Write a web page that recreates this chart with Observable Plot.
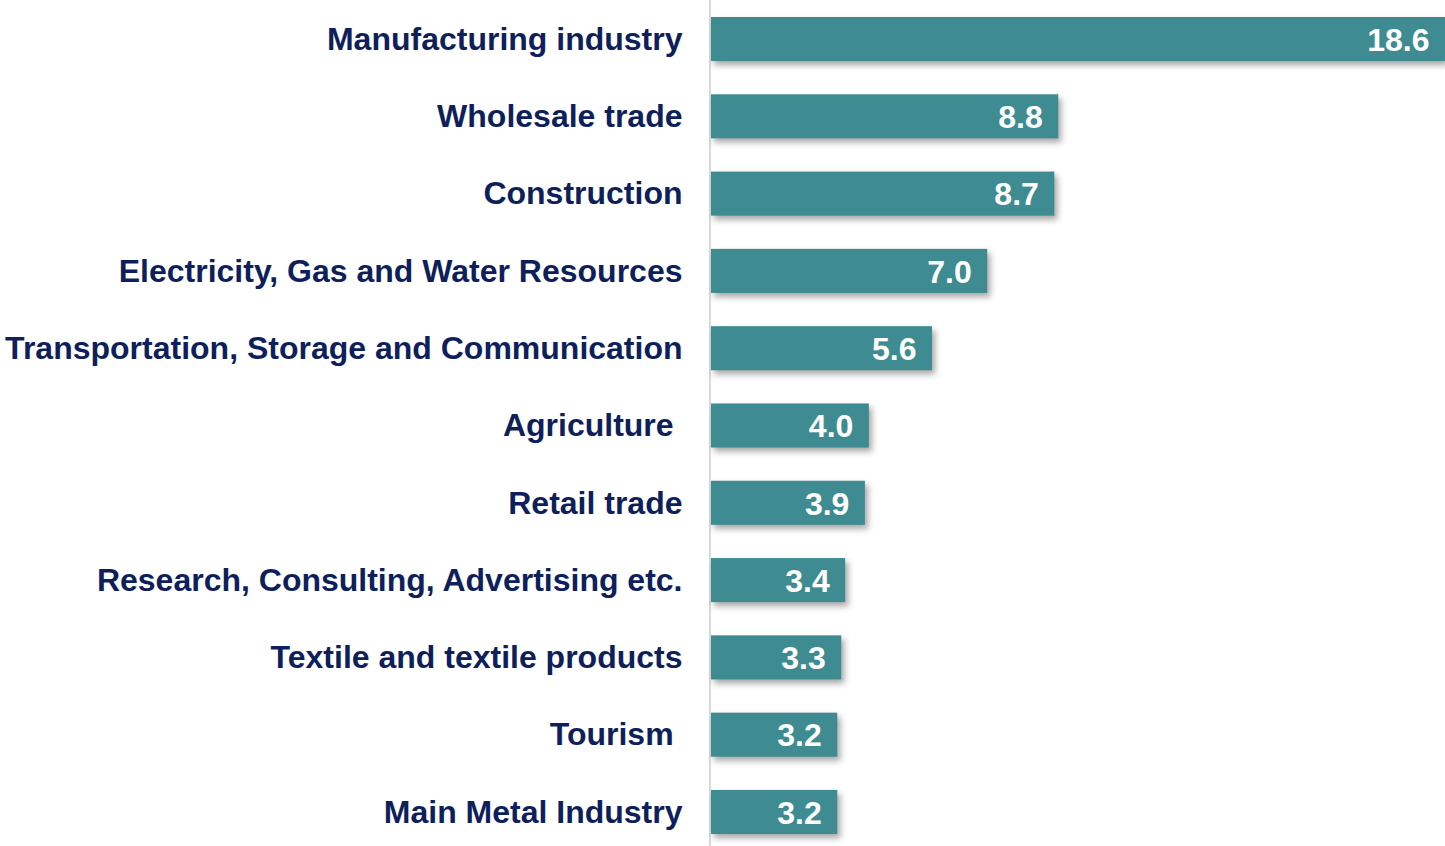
<!DOCTYPE html>
<html>
<head>
<meta charset="utf-8">
<script src="https://cdn.jsdelivr.net/npm/d3@7"></script>
<script src="https://cdn.jsdelivr.net/npm/@observablehq/plot@0.6"></script>
<style>
  html, body { margin: 0; padding: 0; background: #ffffff; }
  #chart svg { display: block; }
</style>
</head>
<body>
<div id="chart"></div>
<script>
const sectors = [
  "Manufacturing industry",
  "Wholesale trade",
  "Construction",
  "Electricity, Gas and Water Resources",
  "Transportation, Storage and Communication",
  "Agriculture ",
  "Retail trade",
  "Research, Consulting, Advertising etc.",
  "Textile and textile products",
  "Tourism ",
  "Main Metal Industry"
];
const values = [18.6, 8.8, 8.7, 7.0, 5.6, 4.0, 3.9, 3.4, 3.3, 3.2, 3.2];

const data = sectors.map((s, i) => ({sector: s, value: values[i]}));

const navy = "#0E1F5B";
const teal = "#3E8C91";

const chart = Plot.plot({
  width: 1445,
  height: 846,
  marginLeft: 711,
  marginRight: 0,
  marginTop: 0,
  marginBottom: 0,
  style: {fontFamily: "'Liberation Sans', Arial, sans-serif", background: "#ffffff"},
  x: {domain: [0, 18.6], axis: null},
  y: {
    domain: sectors,
    range: [0, 851],
    round: false,
    paddingInner: 0.43,
    paddingOuter: 0.22,
    axis: null
  },
  marks: [
    Plot.ruleX([0], {stroke: "#D9D9D9", strokeWidth: 2, dx: -1.5}),
    Plot.barX(data, {x: "value", y: "sector", fill: teal}),
    Plot.text(data, {
      x: "value", y: "sector", text: d => d.value.toFixed(1),
      textAnchor: "end", dx: -16, dy: 1, fill: "#ffffff",
      fontSize: 32, fontWeight: "bold"
    }),
    Plot.text(data, {
      x: 0, y: "sector", text: d => d.sector.replace(/ $/, "\u00a0"),
      textAnchor: "end", dx: -29, dy: 0, fill: navy,
      fontSize: 32, fontWeight: "bold"
    })
  ]
});

document.getElementById("chart").appendChild(chart);

// drop shadow on the bars
d3.select(chart).selectAll("g[aria-label='bar'] rect")
  .style("filter", "drop-shadow(3px 4px 3px rgba(0,0,0,0.35))");
</script>
</body>
</html>
